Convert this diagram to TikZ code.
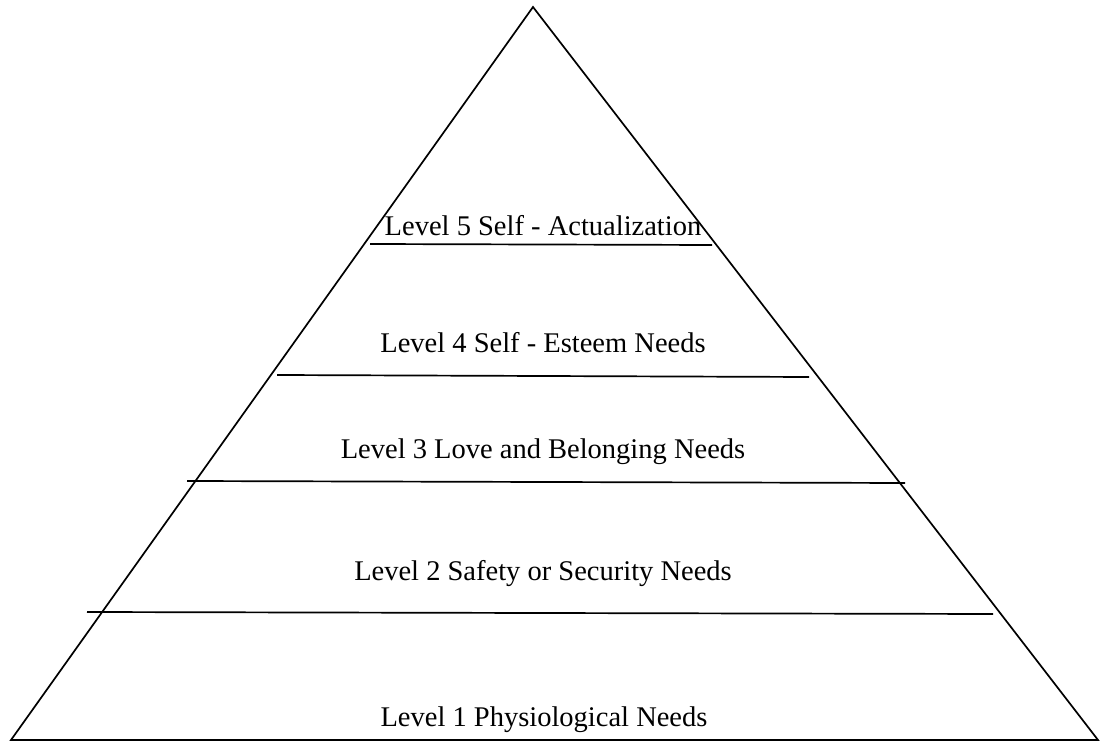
\documentclass[tikz,border=0pt]{standalone}
\usepackage{fontspec}
\setmainfont{Liberation Serif}
\begin{document}
\begin{tikzpicture}[x=1pt,y=1pt,
  edge/.style={line width=1.7pt, black, line join=miter},
  levelline/.style={line width=1.7pt, black},
  lbl/.style={anchor=base, inner sep=0pt, font=\fontsize{28.5}{34}\selectfont}]
\useasboundingbox (0,0) rectangle (1103,742);
% triangle corners
\coordinate (apex) at (533,735);
\coordinate (bl) at (11,2);
\coordinate (br) at (1098,2);
\draw[edge] (bl) -- (apex) -- (br) -- cycle;
% level separators
\coordinate (l5a) at (370,498); \coordinate (l5b) at (712,497);
\coordinate (l4a) at (277,367); \coordinate (l4b) at (809,365);
\coordinate (l3a) at (187,261); \coordinate (l3b) at (905,259);
\coordinate (l2a) at (87,130);  \coordinate (l2b) at (993,128);
\draw[levelline] (l5a) -- (l5b);
\draw[levelline] (l4a) -- (l4b);
\draw[levelline] (l3a) -- (l3b);
\draw[levelline] (l2a) -- (l2b);
% labels
\node[lbl] (t5) at (543,506) {Level 5 Self - Actualization};
\node[lbl] (t4) at (543,389) {Level 4 Self - Esteem Needs};
\node[lbl] (t3) at (543,283) {Level 3 Love and Belonging Needs};
\node[lbl] (t2) at (543,161) {Level 2 Safety or Security Needs};
\node[lbl] (t1) at (544,16) {Level 1 Physiological Needs};
\end{tikzpicture}
\end{document}
